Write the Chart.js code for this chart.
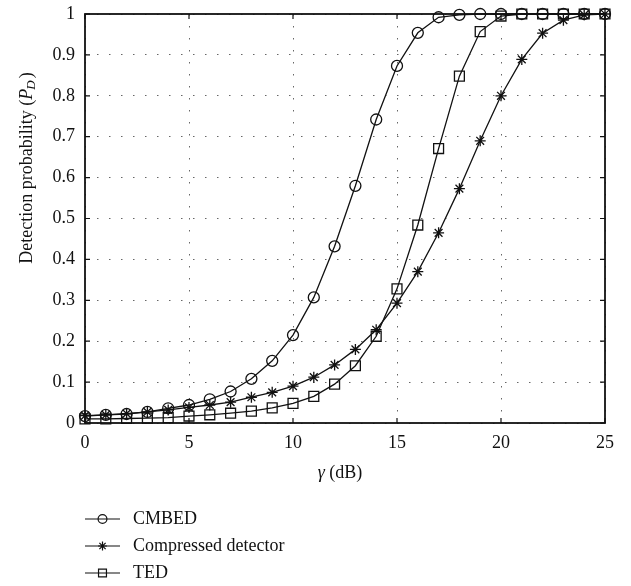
<!DOCTYPE html>
<html>
<head>
<meta charset="utf-8">
<script src="https://cdn.jsdelivr.net/npm/chart.js@4.4.1/dist/chart.umd.min.js"></script>
<style>
    html, body {
        margin: 0;
        padding: 0;
        background: #ffffff;
    }

    #wrap {
        width: 631px;
        height: 586px;
        position: relative;
    }
</style>
</head>
<body>
<div id="wrap">
    <canvas id="pdChart"></canvas>
</div>
<script>

const gammaDb = [
    0, 1, 2, 3, 4, 5, 6, 7, 8, 9, 10, 11, 12,
    13, 14, 15, 16, 17, 18, 19, 20, 21, 22, 23, 24, 25
];

const cmbed = [
    0.017, 0.020, 0.022, 0.027, 0.036, 0.044, 0.058, 0.077, 0.108,
    0.152, 0.215, 0.307, 0.432, 0.580, 0.742, 0.873, 0.954, 0.992,
    0.998, 1, 1, 1, 1, 1, 1, 1
];

const compressed = [
    0.018, 0.020, 0.023, 0.027, 0.032, 0.038, 0.044, 0.051, 0.063,
    0.075, 0.090, 0.112, 0.142, 0.180, 0.228, 0.293, 0.370, 0.465,
    0.573, 0.690, 0.800, 0.889, 0.953, 0.985, 0.998, 1
];

const ted = [
    0.010, 0.010, 0.011, 0.012, 0.013, 0.017, 0.020, 0.024, 0.029,
    0.037, 0.048, 0.065, 0.095, 0.140, 0.212, 0.328, 0.484, 0.671,
    0.848, 0.957, 0.995, 1, 1, 1, 1, 1
];

const seriesNames = [
    "CMBED",
    "Compressed detector",
    "TED"
];

const xTicks = [0, 5, 10, 15, 20, 25];

const yTicks = [0, 0.1, 0.2, 0.3, 0.4, 0.5, 0.6, 0.7, 0.8, 0.9, 1];

const serif = "'Liberation Serif', 'DejaVu Serif', serif";

const ink = "#111111";

function toPoints(values) {

    return gammaDb.map((x, i) => ({ x: x, y: values[i] }));

}

function makeSet(label, values, style, radius) {

    return {
        label: label,
        data: toPoints(values),
        borderColor: ink,
        borderWidth: 1.3,
        backgroundColor: "rgba(0,0,0,0)",
        pointStyle: style,
        pointRadius: radius,
        pointHoverRadius: radius,
        pointBorderColor: ink,
        pointBackgroundColor: "rgba(0,0,0,0)",
        pointBorderWidth: 1.3,
        tension: 0,
        fill: false,
        clip: false
    };

}

// frame, inward ticks, axis titles and stacked legend
const framePlugin = {

    id: "frame",

    afterDraw(chart) {

        const ctx = chart.ctx;
        const area = chart.chartArea;
        const xs = chart.scales.x;
        const ys = chart.scales.y;

        ctx.save();

        ctx.strokeStyle = ink;
        ctx.lineWidth = 1.2;

        xTicks.forEach(v => {

            const px = xs.getPixelForValue(v);

            ctx.beginPath();
            ctx.moveTo(px, area.bottom);
            ctx.lineTo(px, area.bottom - 5);
            ctx.moveTo(px, area.top);
            ctx.lineTo(px, area.top + 5);
            ctx.stroke();

        });

        yTicks.forEach(v => {

            const py = ys.getPixelForValue(v);

            ctx.beginPath();
            ctx.moveTo(area.left, py);
            ctx.lineTo(area.left + 5, py);
            ctx.moveTo(area.right, py);
            ctx.lineTo(area.right - 5, py);
            ctx.stroke();

        });

        ctx.lineWidth = 1.8;
        ctx.strokeRect(
            area.left,
            area.top,
            area.right - area.left,
            area.bottom - area.top
        );

        // y title with italic P and subscript D
        ctx.fillStyle = ink;
        ctx.textBaseline = "middle";
        ctx.textAlign = "left";

        const partA = "Detection probability (";
        const partP = "P";
        const partD = "D";
        const partC = ")";

        ctx.font = "18px " + serif;
        const wA = ctx.measureText(partA).width;
        const wC = ctx.measureText(partC).width;
        ctx.font = "italic 18px " + serif;
        const wP = ctx.measureText(partP).width;
        ctx.font = "italic 13px " + serif;
        const wD = ctx.measureText(partD).width;

        const total = wA + wP + wD + wC + 1;

        ctx.save();
        ctx.translate(27, 168);
        ctx.rotate(-Math.PI / 2);

        let cx = -total / 2;

        ctx.font = "18px " + serif;
        ctx.fillText(partA, cx, 0);
        cx += wA;

        ctx.font = "italic 18px " + serif;
        ctx.fillText(partP, cx, 0);
        cx += wP;

        ctx.font = "italic 13px " + serif;
        ctx.fillText(partD, cx - 1, 5);
        cx += wD;

        ctx.font = "18px " + serif;
        ctx.fillText(partC, cx + 1, 0);

        ctx.restore();

        // x title
        ctx.font = "italic 18px " + serif;
        const wG = ctx.measureText("γ").width;
        ctx.font = "18px " + serif;
        const wU = ctx.measureText(" (dB)").width;

        let tx = (area.left + area.right) / 2 - 5 - (wG + wU) / 2;
        const ty = area.bottom + 50;

        ctx.font = "italic 18px " + serif;
        ctx.fillText("γ", tx, ty);
        ctx.font = "18px " + serif;
        ctx.fillText(" (dB)", tx + wG, ty);

        // legend, one row per series
        chart.data.datasets.forEach((ds, i) => {

            const ly = area.bottom + 96 + i * 27;
            const x0 = area.left;
            const x1 = area.left + 35;

            ctx.strokeStyle = ink;
            ctx.lineWidth = 1.2;
            ctx.beginPath();
            ctx.moveTo(x0, ly);
            ctx.lineTo(x1, ly);
            ctx.stroke();

            if (Chart.helpers && Chart.helpers.drawPoint) {

                ctx.fillStyle = "rgba(0,0,0,0)";
                ctx.strokeStyle = ink;

                Chart.helpers.drawPoint(
                    ctx,
                    {
                        pointStyle: ds.pointStyle,
                        radius: ds.pointRadius * 0.8,
                        rotation: 0,
                        borderWidth: 1.2
                    },
                    (x0 + x1) / 2,
                    ly
                );

            }

            ctx.fillStyle = ink;
            ctx.font = "18px " + serif;
            ctx.textAlign = "left";
            ctx.textBaseline = "middle";
            ctx.fillText(ds.label, x1 + 13, ly);

        });

        ctx.restore();

    }

};

new Chart(document.getElementById("pdChart"), {

    type: "line",

    data: {

        datasets: [
            makeSet(seriesNames[0], cmbed, "circle", 5.5),
            makeSet(seriesNames[1], compressed, "star", 5.5),
            makeSet(seriesNames[2], ted, "rect", 7)
        ]

    },

    options: {

        responsive: true,
        maintainAspectRatio: false,
        animation: false,
        devicePixelRatio: 1,

        layout: {
            padding: { left: 0, top: 14, right: 26, bottom: 103 }
        },

        plugins: {
            legend: { display: false },
            tooltip: { enabled: false }
        },

        scales: {

            x: {
                type: "linear",
                min: 0,
                max: 25,
                afterBuildTicks: scale => {
                    scale.ticks = xTicks.map(v => ({ value: v }));
                },
                afterFit: scale => {
                    scale.height = 60;
                    scale.paddingLeft = 0;
                    scale.paddingRight = 0;
                },
                grid: {
                    color: "#666666",
                    lineWidth: 1,
                    drawTicks: false
                },
                border: {
                    display: false,
                    dash: [1.5, 10.5]
                },
                ticks: {
                    color: ink,
                    padding: 9,
                    maxRotation: 0,
                    font: { family: serif, size: 18 }
                }
            },

            y: {
                type: "linear",
                min: 0,
                max: 1,
                afterBuildTicks: scale => {
                    scale.ticks = yTicks.map(v => ({ value: v }));
                },
                afterFit: scale => {
                    scale.width = 85;
                    scale.paddingTop = 0;
                    scale.paddingBottom = 0;
                },
                grid: {
                    color: "#666666",
                    lineWidth: 1,
                    drawTicks: false
                },
                border: {
                    display: false,
                    dash: [1.5, 10.5]
                },
                ticks: {
                    color: ink,
                    padding: 10,
                    callback: v => String(Math.round(v * 10) / 10),
                    font: { family: serif, size: 18 }
                }
            }

        }

    },

    plugins: [framePlugin]

});

</script>
</body>
</html>
